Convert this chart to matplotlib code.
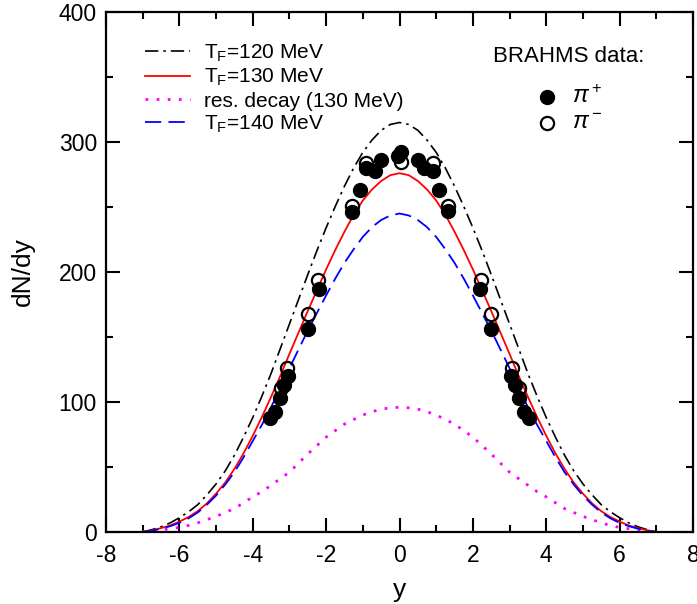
import matplotlib
matplotlib.use("Agg")
import matplotlib.pyplot as plt
from matplotlib.ticker import MultipleLocator

plt.rcParams['font.family'] = ['Liberation Sans', 'DejaVu Sans']
plt.rcParams['mathtext.fontset'] = 'custom'
plt.rcParams['mathtext.rm'] = 'Liberation Sans'
plt.rcParams['mathtext.it'] = 'Liberation Sans:italic'
plt.rcParams['mathtext.default'] = 'regular'
plt.rcParams['axes.unicode_minus'] = False

# ---- model curves ----
y_grid = [-7, -6.75, -6.5, -6.25, -6, -5.75, -5.5, -5.25, -5, -4.75, -4.5, -4.25,
          -4, -3.75, -3.5, -3.25, -3, -2.75, -2.5, -2.25, -2, -1.75, -1.5, -1.25,
          -1, -0.75, -0.5, -0.25, 0, 0.25, 0.5, 0.75, 1, 1.25, 1.5, 1.75,
          2, 2.25, 2.5, 2.75, 3, 3.25, 3.5, 3.75, 4, 4.25, 4.5, 4.75,
          5, 5.25, 5.5, 5.75, 6, 6.25, 6.5, 6.75, 7]
tf120 = [0, 1.8, 4, 7, 11, 15.5, 21, 28.5, 37, 47, 59, 73,
         88, 104.5, 122, 141, 160, 179, 198, 216.5, 234, 250.5, 266, 280,
         292, 301.5, 309, 313.5, 315, 313.5, 309, 301.5, 292, 280, 266, 250.5,
         234, 216.5, 198, 179, 160, 141, 122, 104.5, 88, 73, 59, 47,
         37, 28.5, 21, 15.5, 11, 7, 4, 1.8, 0]
tf130 = [0, 1.3, 3, 5, 8, 11.5, 16, 22, 29.5, 38, 48.5, 60.5,
         74, 88.5, 104, 120, 137, 153.5, 170, 186, 202, 217, 231, 244,
         255, 263.5, 270, 274.5, 276, 274.5, 270, 263.5, 255, 244, 231, 217,
         202, 186, 170, 153.5, 137, 120, 104, 88.5, 74, 60.5, 48.5, 38,
         29.5, 22, 16, 11.5, 8, 5, 3, 1.3, 0]
resdecay = [0, 0.7, 1.5, 2.5, 3.5, 5, 7, 9.5, 12, 15, 18, 22.5,
            27, 31, 36, 41, 46, 53, 60, 66.5, 73, 78, 83, 86.5,
            90, 92.5, 94.5, 95.5, 96, 95.5, 94.5, 92.5, 90, 86.5, 83, 78,
            73, 66.5, 60, 53, 46, 41, 36, 31, 27, 22.5, 18, 15,
            12, 9.5, 7, 5, 3.5, 2.5, 1.5, 0.7, 0]
tf140 = [0, 1, 2.5, 4.5, 7, 10.5, 15, 21, 28, 36.5, 46, 57.5,
         70, 82.5, 96, 111, 126, 140.5, 155, 168.5, 182, 195, 207, 217.5,
         227, 234.5, 240, 243.5, 245, 243.5, 240, 234.5, 227, 217.5, 207, 195,
         182, 168.5, 155, 140.5, 126, 111, 96, 82.5, 70, 57.5, 46, 36.5,
         28, 21, 15, 10.5, 7, 4.5, 2.5, 1, 0]

# ---- BRAHMS data ----
piplus_y = [-3.52, -3.38, -3.25, -3.16, -3.04, -2.5, -2.2, -1.29, -1.09, -0.91, -0.68, -0.5,
            -0.05, 0.05, 0.5, 0.68, 0.91, 1.09, 1.32, 2.2, 2.5, 3.04, 3.16, 3.25, 3.38, 3.52]
piplus_v = [87.5, 92.5, 103, 113, 120, 156, 187, 246, 263, 280, 278, 286,
            289, 292, 286, 280, 278, 263, 247, 187, 156, 120, 113, 103, 92.5, 87.5]
piminus_y = [-3.22, -3.07, -2.5, -2.23, -1.29, -0.91, 0.05, 0.91, 1.32, 2.23, 2.5, 3.07, 3.27]
piminus_v = [110.5, 126, 168, 194, 251, 284, 285, 284, 251, 194, 168, 126, 110.5]

labels = ['T$_\\mathregular{F}$=120 MeV', 'T$_\\mathregular{F}$=130 MeV',
          'res. decay (130 MeV)', 'T$_\\mathregular{F}$=140 MeV']

fig = plt.figure(figsize=(6.97, 6.04), dpi=100)
ax = fig.add_axes([106/697, 72/604, (693-106)/697, (532-12)/604])

h1, = ax.plot(y_grid, tf120, color='black', lw=1.2, ls=(0, (8, 3, 1.5, 3)))
h2, = ax.plot(y_grid, tf130, color='red', lw=1.3, ls='-')
h3, = ax.plot(y_grid, resdecay, color='magenta', lw=2.0, ls=(0, (1, 3)))
h4, = ax.plot(y_grid, tf140, color='blue', lw=1.3, ls=(0, (9, 4)))

ax.plot(piplus_y, piplus_v, 'o', color='black', ms=10, zorder=4)
ax.plot(piminus_y, piminus_v, 'o', mfc='none', mec='black', mew=1.6, ms=9.5, zorder=5)

leg = ax.legend([h1, h2, h3, h4], labels, loc='upper left', frameon=False,
                bbox_to_anchor=(0.0523, 0.957), fontsize=15, handlelength=2.16,
                handletextpad=0.65, labelspacing=0.15, borderaxespad=0)

ax.text(0.789, 0.915, 'BRAHMS data:', transform=ax.transAxes, fontsize=16,
        ha='center', va='center')
ax.plot([0.751], [0.837], 'o', color='black', ms=10, transform=ax.transAxes)
ax.plot([0.751], [0.786], 'o', mfc='none', mec='black', mew=1.6, ms=9.5,
        transform=ax.transAxes)
ax.text(0.794, 0.837, '$\\mathit{\\pi}^+$', transform=ax.transAxes, fontsize=17,
        ha='left', va='center')
ax.text(0.794, 0.786, '$\\mathit{\\pi}^-$', transform=ax.transAxes, fontsize=17,
        ha='left', va='center')

ax.set_xlim(-8, 8)
ax.set_ylim(0, 400)
ax.xaxis.set_major_locator(MultipleLocator(2))
ax.xaxis.set_minor_locator(MultipleLocator(1))
ax.yaxis.set_major_locator(MultipleLocator(100))
ax.yaxis.set_minor_locator(MultipleLocator(50))
ax.tick_params(which='both', direction='in', top=True, right=True, width=1.5,
               labelsize=16.5)
ax.tick_params(which='major', length=10)
ax.tick_params(axis='y', which='major', pad=6.5)
ax.tick_params(axis='x', which='major', pad=8.5)
ax.tick_params(which='minor', length=5)
for s in ax.spines.values():
    s.set_linewidth(1.6)

ax.set_xlabel('y', fontsize=19, labelpad=8)
ax.set_ylabel('dN/dy', fontsize=19, labelpad=17)

fig.savefig('out.png', dpi=100)
